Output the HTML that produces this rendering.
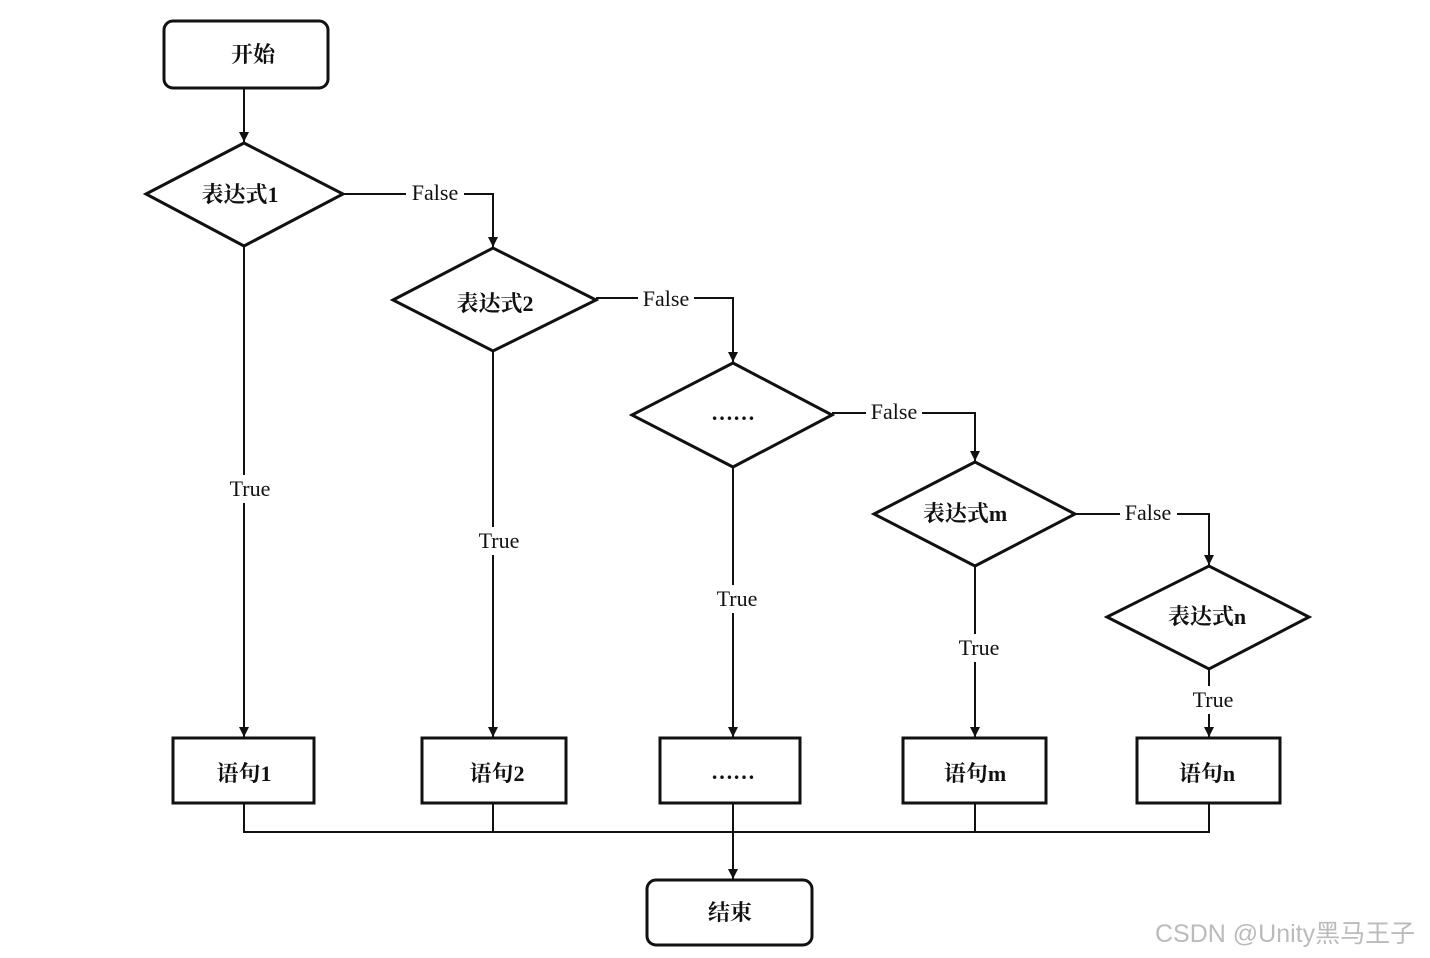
<!DOCTYPE html>
<html><head><meta charset="utf-8"><style>
html,body{margin:0;padding:0;background:#fff;}
svg{display:block}
text{font-family:"Liberation Serif","Noto Serif CJK SC",serif;font-size:22px;fill:#111;}
</style></head><body>
<svg width="1430" height="958" viewBox="0 0 1430 958" xmlns="http://www.w3.org/2000/svg">
<defs><marker id="a" viewBox="0 0 10 10" refX="10" refY="5" markerWidth="10" markerHeight="16" markerUnits="userSpaceOnUse" orient="auto"><path d="M0,0 L10,5 L0,10 z" fill="#111"/></marker></defs>
<g stroke="#111" fill="none" stroke-width="2">
<rect x="164" y="21" width="164" height="67" rx="9" stroke-width="3"/>
<line x1="244" y1="88" x2="244" y2="142" marker-end="url(#a)"/>
<polygon points="146,194 244,143 343,194 244,246" stroke-width="3"/>
<polygon points="393,300 493,248 596,300 493,351" stroke-width="3"/>
<polygon points="632,415 733,363 832,415 733,467" stroke-width="3"/>
<polygon points="874,514 975,462 1075,514 975,566" stroke-width="3"/>
<polygon points="1107,617 1209,566 1309,617 1209,669" stroke-width="3"/>
<path d="M343,194 H406 M464,194 H493 V247" marker-end="url(#a)"/>
<path d="M596,298 H638 M694,298 H733 V362" marker-end="url(#a)"/>
<path d="M832,413 H866 M922,413 H975 V461" marker-end="url(#a)"/>
<path d="M1075,514 H1120 M1177,514 H1209 V565" marker-end="url(#a)"/>
<path d="M244,246 V475 M244,503 V737" marker-end="url(#a)"/>
<path d="M493,351 V527 M493,555 V737" marker-end="url(#a)"/>
<path d="M733,467 V585 M733,613 V737" marker-end="url(#a)"/>
<path d="M975,566 V634 M975,662 V737" marker-end="url(#a)"/>
<path d="M1209,669 V686 M1209,714 V737" marker-end="url(#a)"/>
<rect x="173" y="738" width="141" height="65" stroke-width="3"/>
<rect x="422" y="738" width="144" height="65" stroke-width="3"/>
<rect x="660" y="738" width="140" height="65" stroke-width="3"/>
<rect x="903" y="738" width="143" height="65" stroke-width="3"/>
<rect x="1137" y="738" width="143" height="65" stroke-width="3"/>
<path d="M244,803 V832 H1209 V803 M493,803 V832 M975,803 V832"/>
<line x1="733" y1="803" x2="733" y2="879" marker-end="url(#a)"/>
<rect x="647" y="880" width="165" height="65" rx="9" stroke-width="3"/>
</g>
<g text-anchor="middle" font-weight="bold">
<text x="253" y="62">开始</text>
<text x="240" y="202">表达式1</text>
<text x="495" y="311">表达式2</text>
<text x="733" y="420">……</text>
<text x="965" y="521">表达式m</text>
<text x="1207" y="624">表达式n</text>
<text x="244" y="781">语句1</text>
<text x="497" y="781">语句2</text>
<text x="733" y="779">……</text>
<text x="975" y="781">语句m</text>
<text x="1207" y="781">语句n</text>
<text x="730" y="920">结束</text>
</g>
<g text-anchor="middle">
<text x="435" y="200">False</text>
<text x="666" y="306">False</text>
<text x="894" y="419">False</text>
<text x="1148" y="520">False</text>
<text x="250" y="496">True</text>
<text x="499" y="548">True</text>
<text x="737" y="606">True</text>
<text x="979" y="655">True</text>
<text x="1213" y="707">True</text>
</g>
<text x="1155" y="942" style="font-family:'Liberation Sans','Noto Sans CJK SC',sans-serif;font-size:25px;fill:#bbb">CSDN @Unity黑马王子</text>
</svg>
</body></html>
